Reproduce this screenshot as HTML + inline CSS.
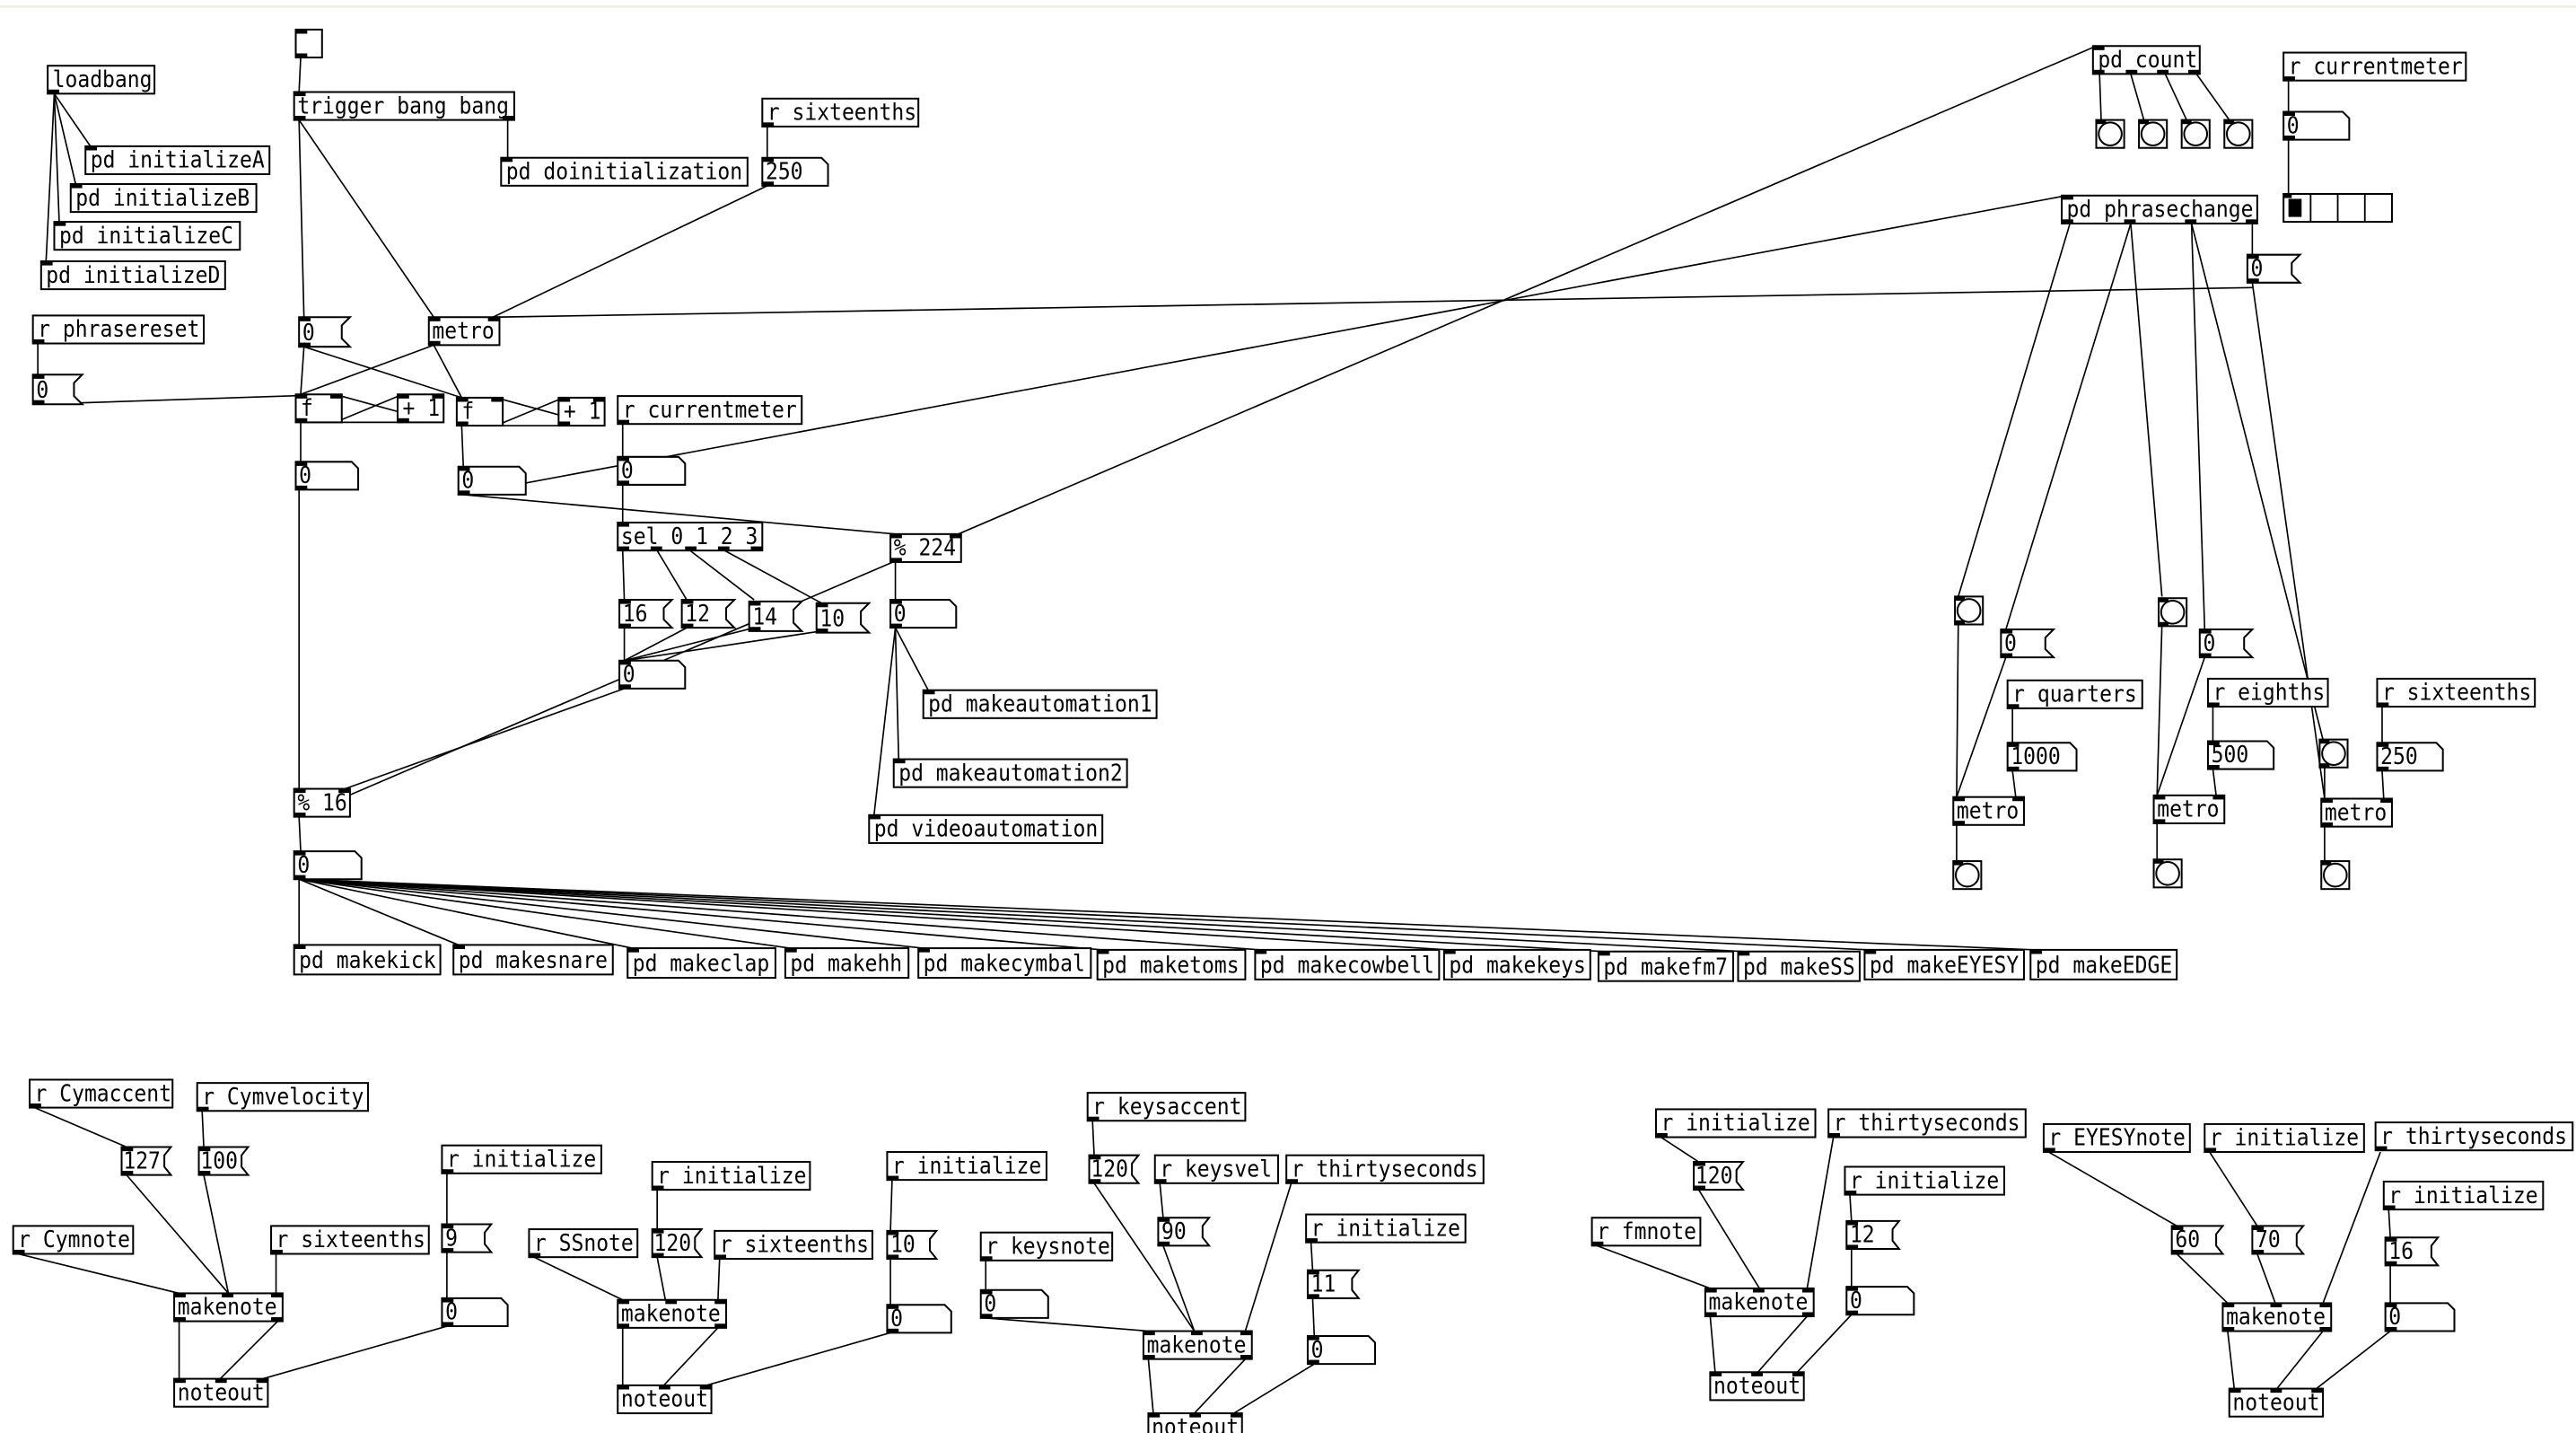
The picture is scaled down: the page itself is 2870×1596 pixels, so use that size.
<!DOCTYPE html>
<html><head><meta charset="utf-8">
<style>
html,body{margin:0;padding:0;background:#fff;}
svg{display:block;}
.b{fill:#fff;stroke:#000;stroke-width:1.1;}
.n{fill:#fff;stroke:#000;stroke-width:1.1;}
.p{fill:#000;stroke:none;}
.l{stroke:#000;stroke-width:0.9;fill:none;}
text{font-family:"DejaVu Sans Mono","Liberation Mono",monospace;font-size:14.3px;fill:#000;transform-box:fill-box;transform-origin:0 0;transform:scaleX(0.88);}
</style></head><body>
<svg width="2870" height="1596" viewBox="0 0 1568 872" xmlns="http://www.w3.org/2000/svg">
<rect x="0" y="0" width="1568" height="872" fill="#fff"/>
<line x1="0" y1="4" x2="1568" y2="4" stroke="#f0ece8" stroke-width="1.5"/>

<g class="l">
<line x1="33" y1="57" x2="55" y2="89"/><line x1="33" y1="57" x2="46" y2="112"/>
<line x1="33" y1="57" x2="36" y2="135"/><line x1="33" y1="57" x2="28" y2="159"/>
<line x1="183" y1="35" x2="182" y2="56"/>
<line x1="182" y1="73" x2="185" y2="193"/>
<line x1="182" y1="73" x2="264" y2="193"/>
<line x1="309" y1="73" x2="309" y2="96"/>
<line x1="467" y1="77" x2="467" y2="96"/>
<line x1="467" y1="113" x2="300" y2="193"/>
<line x1="300" y1="193" x2="1371" y2="175"/>
<line x1="23" y1="209" x2="23" y2="228"/>
<line x1="23" y1="246" x2="204" y2="240"/>
<line x1="185" y1="211" x2="183" y2="240"/>
<line x1="185" y1="211" x2="281" y2="242"/>
<line x1="264" y1="210" x2="183" y2="240"/>
<line x1="264" y1="210" x2="281" y2="242"/>
<line x1="183" y1="257" x2="245" y2="257"/>
<line x1="245" y1="240" x2="204" y2="257"/>
<line x1="204" y1="240" x2="266" y2="257"/>
<line x1="183" y1="257" x2="183" y2="281"/>
<line x1="281" y1="259" x2="343" y2="259"/>
<line x1="343" y1="242" x2="302" y2="259"/>
<line x1="302" y1="242" x2="364" y2="259"/>
<line x1="281" y1="259" x2="282" y2="284"/>
<line x1="282" y1="301" x2="545" y2="325"/>
<line x1="282" y1="301" x2="1258" y2="119"/>
<line x1="379" y1="258" x2="379" y2="278"/>
<line x1="379" y1="295" x2="379" y2="318"/>
<line x1="379" y1="335" x2="380" y2="365"/>
<line x1="400" y1="335" x2="418" y2="365"/>
<line x1="420" y1="335" x2="459" y2="365"/>
<line x1="441" y1="335" x2="500" y2="367"/>
<line x1="380" y1="382" x2="380" y2="402"/>
<line x1="418" y1="382" x2="380" y2="402"/>
<line x1="459" y1="382" x2="380" y2="402"/>
<line x1="500" y1="384" x2="380" y2="402"/>
<line x1="380" y1="419" x2="210" y2="480"/>
<line x1="545" y1="342" x2="545" y2="365"/>
<line x1="545" y1="382" x2="565" y2="420"/>
<line x1="545" y1="382" x2="547" y2="462"/>
<line x1="545" y1="382" x2="532" y2="496"/>
<line x1="182" y1="298" x2="182" y2="480"/>
<line x1="182" y1="497" x2="1276" y2="28"/>
<line x1="182" y1="497" x2="183" y2="518"/>
<line x1="182" y1="535" x2="182" y2="575"/>
<line x1="182" y1="535" x2="279" y2="575"/>
<line x1="182" y1="535" x2="385" y2="577"/>
<line x1="182" y1="535" x2="481" y2="577"/>
<line x1="182" y1="535" x2="562" y2="577"/>
<line x1="182" y1="535" x2="671" y2="578"/>
<line x1="182" y1="535" x2="767" y2="578"/>
<line x1="182" y1="535" x2="882" y2="578"/>
<line x1="182" y1="535" x2="976" y2="579"/>
<line x1="182" y1="535" x2="1061" y2="579"/>
<line x1="182" y1="535" x2="1138" y2="578"/>
<line x1="182" y1="535" x2="1239" y2="578"/>
<line x1="1278" y1="45" x2="1279" y2="73"/>
<line x1="1297" y1="45" x2="1305" y2="73"/>
<line x1="1318" y1="45" x2="1331" y2="73"/>
<line x1="1337" y1="45" x2="1357" y2="73"/>
<line x1="1393" y1="49" x2="1393" y2="68"/>
<line x1="1393" y1="85" x2="1393" y2="118"/>
<line x1="1260" y1="136" x2="1192" y2="363"/>
<line x1="1297" y1="136" x2="1221" y2="383"/>
<line x1="1297" y1="136" x2="1316" y2="363"/>
<line x1="1334" y1="136" x2="1342" y2="383"/>
<line x1="1334" y1="136" x2="1414" y2="450"/>
<line x1="1371" y1="136" x2="1371" y2="155"/>
<line x1="1371" y1="172" x2="1415" y2="486"/>
<line x1="1192" y1="380" x2="1191" y2="485"/>
<line x1="1221" y1="400" x2="1191" y2="485"/>
<line x1="1225" y1="431" x2="1225" y2="452"/>
<line x1="1225" y1="469" x2="1227" y2="485"/>
<line x1="1191" y1="502" x2="1191" y2="524"/>
<line x1="1316" y1="380" x2="1313" y2="484"/>
<line x1="1342" y1="400" x2="1313" y2="484"/>
<line x1="1347" y1="430" x2="1347" y2="451"/>
<line x1="1347" y1="468" x2="1349" y2="484"/>
<line x1="1313" y1="501" x2="1313" y2="523"/>
<line x1="1415" y1="467" x2="1415" y2="486"/>
<line x1="1450" y1="430" x2="1450" y2="452"/>
<line x1="1450" y1="469" x2="1451" y2="486"/>
<line x1="1415" y1="503" x2="1415" y2="524"/>
<line x1="21" y1="674" x2="77" y2="698"/>
<line x1="123" y1="676" x2="124" y2="698"/>
<line x1="77" y1="715" x2="139" y2="787"/>
<line x1="124" y1="715" x2="139" y2="787"/>
<line x1="11" y1="763" x2="109" y2="787"/>
<line x1="168" y1="763" x2="168" y2="787"/>
<line x1="272" y1="714" x2="272" y2="745"/>
<line x1="272" y1="762" x2="272" y2="790"/>
<line x1="272" y1="807" x2="160" y2="839"/>
<line x1="109" y1="804" x2="109" y2="839"/>
<line x1="169" y1="804" x2="134" y2="839"/>
<line x1="400" y1="724" x2="400" y2="748"/>
<line x1="400" y1="765" x2="405" y2="791"/>
<line x1="325" y1="765" x2="379" y2="791"/>
<line x1="438" y1="766" x2="437" y2="791"/>
<line x1="543" y1="718" x2="542" y2="749"/>
<line x1="542" y1="766" x2="542" y2="794"/>
<line x1="542" y1="811" x2="430" y2="843"/>
<line x1="379" y1="808" x2="379" y2="843"/>
<line x1="437" y1="808" x2="404" y2="843"/>
<line x1="665" y1="682" x2="666" y2="703"/>
<line x1="666" y1="720" x2="727" y2="810"/>
<line x1="706" y1="720" x2="708" y2="741"/>
<line x1="708" y1="758" x2="727" y2="810"/>
<line x1="786" y1="720" x2="758" y2="810"/>
<line x1="600" y1="767" x2="600" y2="785"/>
<line x1="600" y1="802" x2="699" y2="810"/>
<line x1="798" y1="756" x2="799" y2="773"/>
<line x1="799" y1="790" x2="800" y2="813"/>
<line x1="800" y1="830" x2="751" y2="860"/>
<line x1="699" y1="827" x2="702" y2="860"/>
<line x1="758" y1="827" x2="727" y2="860"/>
<line x1="1011" y1="692" x2="1034" y2="707"/>
<line x1="1034" y1="724" x2="1071" y2="784"/>
<line x1="1116" y1="692" x2="1100" y2="784"/>
<line x1="972" y1="758" x2="1041" y2="784"/>
<line x1="1126" y1="727" x2="1127" y2="743"/>
<line x1="1127" y1="760" x2="1127" y2="783"/>
<line x1="1127" y1="800" x2="1094" y2="835"/>
<line x1="1041" y1="801" x2="1044" y2="835"/>
<line x1="1100" y1="801" x2="1070" y2="835"/>
<line x1="1247" y1="701" x2="1325" y2="746"/>
<line x1="1345" y1="701" x2="1374" y2="746"/>
<line x1="1449" y1="701" x2="1414" y2="793"/>
<line x1="1325" y1="763" x2="1356" y2="793"/>
<line x1="1374" y1="763" x2="1385" y2="793"/>
<line x1="1454" y1="736" x2="1455" y2="753"/>
<line x1="1455" y1="770" x2="1455" y2="793"/>
<line x1="1455" y1="810" x2="1410" y2="845"/>
<line x1="1356" y1="810" x2="1360" y2="845"/>
<line x1="1414" y1="810" x2="1386" y2="845"/>
</g>

<g>
<rect class="b" x="180" y="18" width="16" height="17"/><rect class="p" x="180" y="18" width="7" height="2.5"/><rect class="p" x="180" y="32.5" width="7" height="2.5"/>

<rect class="b" x="29" y="40" width="65" height="17"/><text x="32" y="53">loadbang</text><rect class="p" x="29" y="54.5" width="7" height="2.5"/>
<rect class="b" x="52" y="89" width="112" height="17"/><text x="55" y="102">pd initializeA</text><rect class="p" x="52" y="89" width="7" height="2.5"/>
<rect class="b" x="43" y="112" width="113" height="17"/><text x="46" y="125">pd initializeB</text><rect class="p" x="43" y="112" width="7" height="2.5"/>
<rect class="b" x="33" y="135" width="113" height="17"/><text x="36" y="148">pd initializeC</text><rect class="p" x="33" y="135" width="7" height="2.5"/>
<rect class="b" x="25" y="159" width="112" height="17"/><text x="28" y="172">pd initializeD</text><rect class="p" x="25" y="159" width="7" height="2.5"/>

<rect class="b" x="179" y="56" width="134" height="17"/><text x="181" y="69">trigger bang bang</text><rect class="p" x="179" y="56" width="7" height="2.5"/><rect class="p" x="179" y="70.5" width="7" height="2.5"/><rect class="p" x="306" y="70.5" width="7" height="2.5"/>
<rect class="b" x="305" y="96" width="150" height="17"/><text x="308" y="109">pd doinitialization</text><rect class="p" x="305" y="96" width="7" height="2.5"/>
<rect class="b" x="464" y="60" width="95" height="17"/><text x="467" y="73">r sixteenths</text><rect class="p" x="464" y="74.5" width="7" height="2.5"/>
<rect class="b" x="20" y="192" width="104" height="17"/><text x="23" y="205">r phrasereset</text><rect class="p" x="20" y="206.5" width="7" height="2.5"/>

<rect class="b" x="261" y="193" width="43" height="17"/><text x="263" y="206">metro</text><rect class="p" x="261" y="193" width="7" height="2.5"/><rect class="p" x="297" y="193" width="7" height="2.5"/><rect class="p" x="261" y="207.5" width="7" height="2.5"/>
<rect class="b" x="180" y="240" width="28" height="17"/><text x="183" y="253">f</text><rect class="p" x="180" y="240" width="7" height="2.5"/><rect class="p" x="201" y="240" width="7" height="2.5"/><rect class="p" x="180" y="254.5" width="7" height="2.5"/>
<rect class="b" x="242" y="240" width="28" height="17"/><text x="245" y="253">+ 1</text><rect class="p" x="242" y="240" width="7" height="2.5"/><rect class="p" x="263" y="240" width="7" height="2.5"/><rect class="p" x="242" y="254.5" width="7" height="2.5"/>
<rect class="b" x="278" y="242" width="28" height="17"/><text x="281" y="255">f</text><rect class="p" x="278" y="242" width="7" height="2.5"/><rect class="p" x="299" y="242" width="7" height="2.5"/><rect class="p" x="278" y="256.5" width="7" height="2.5"/>
<rect class="b" x="340" y="242" width="28" height="17"/><text x="343" y="255">+ 1</text><rect class="p" x="340" y="242" width="7" height="2.5"/><rect class="p" x="361" y="242" width="7" height="2.5"/><rect class="p" x="340" y="256.5" width="7" height="2.5"/>
<rect class="b" x="376" y="241" width="112" height="17"/><text x="379" y="254">r currentmeter</text><rect class="p" x="376" y="255.5" width="7" height="2.5"/>
<rect class="b" x="376" y="318" width="88" height="17"/><text x="378" y="331">sel 0 1 2 3</text><rect class="p" x="376" y="318" width="7" height="2.5"/><rect class="p" x="376" y="332.5" width="7" height="2.5"/><rect class="p" x="396" y="332.5" width="7" height="2.5"/><rect class="p" x="417" y="332.5" width="7" height="2.5"/><rect class="p" x="437" y="332.5" width="7" height="2.5"/><rect class="p" x="457" y="332.5" width="7" height="2.5"/>
<rect class="b" x="542" y="325" width="43" height="17"/><text x="544" y="338">% 224</text><rect class="p" x="542" y="325" width="7" height="2.5"/><rect class="p" x="578" y="325" width="7" height="2.5"/><rect class="p" x="542" y="339.5" width="7" height="2.5"/>
<rect class="b" x="562" y="420" width="142" height="17"/><text x="565" y="433">pd makeautomation1</text><rect class="p" x="562" y="420" width="7" height="2.5"/>
<rect class="b" x="544" y="462" width="142" height="17"/><text x="547" y="475">pd makeautomation2</text><rect class="p" x="544" y="462" width="7" height="2.5"/>
<rect class="b" x="529" y="496" width="142" height="17"/><text x="532" y="509">pd videoautomation</text><rect class="p" x="529" y="496" width="7" height="2.5"/>
<rect class="b" x="179" y="480" width="34" height="17"/><text x="181" y="493">% 16</text><rect class="p" x="179" y="480" width="7" height="2.5"/><rect class="p" x="206" y="480" width="7" height="2.5"/><rect class="p" x="179" y="494.5" width="7" height="2.5"/>

<rect class="b" x="179" y="575" width="89" height="18"/><text x="182" y="589">pd makekick</text><rect class="p" x="179" y="575" width="7" height="2.5"/>
<rect class="b" x="276" y="575" width="97" height="18"/><text x="279" y="589">pd makesnare</text><rect class="p" x="276" y="575" width="7" height="2.5"/>
<rect class="b" x="382" y="577" width="90" height="18"/><text x="385" y="591">pd makeclap</text><rect class="p" x="382" y="577" width="7" height="2.5"/>
<rect class="b" x="478" y="577" width="75" height="18"/><text x="481" y="591">pd makehh</text><rect class="p" x="478" y="577" width="7" height="2.5"/>
<rect class="b" x="559" y="577" width="105" height="18"/><text x="562" y="591">pd makecymbal</text><rect class="p" x="559" y="577" width="7" height="2.5"/>
<rect class="b" x="668" y="578" width="90" height="18"/><text x="671" y="592">pd maketoms</text><rect class="p" x="668" y="578" width="7" height="2.5"/>
<rect class="b" x="764" y="578" width="112" height="18"/><text x="767" y="592">pd makecowbell</text><rect class="p" x="764" y="578" width="7" height="2.5"/>
<rect class="b" x="879" y="578" width="89" height="18"/><text x="882" y="592">pd makekeys</text><rect class="p" x="879" y="578" width="7" height="2.5"/>
<rect class="b" x="973" y="579" width="82" height="18"/><text x="976" y="593">pd makefm7</text><rect class="p" x="973" y="579" width="7" height="2.5"/>
<rect class="b" x="1058" y="579" width="74" height="18"/><text x="1061" y="593">pd makeSS</text><rect class="p" x="1058" y="579" width="7" height="2.5"/>
<rect class="b" x="1135" y="578" width="97" height="18"/><text x="1138" y="592">pd makeEYESY</text><rect class="p" x="1135" y="578" width="7" height="2.5"/>
<rect class="b" x="1236" y="578" width="89" height="18"/><text x="1239" y="592">pd makeEDGE</text><rect class="p" x="1236" y="578" width="7" height="2.5"/>

<rect class="b" x="1274" y="28" width="65" height="17"/><text x="1277" y="41">pd count</text><rect class="p" x="1274" y="28" width="7" height="2.5"/><rect class="p" x="1274" y="42.5" width="7" height="2.5"/><rect class="p" x="1294" y="42.5" width="7" height="2.5"/><rect class="p" x="1313" y="42.5" width="7" height="2.5"/><rect class="p" x="1332" y="42.5" width="7" height="2.5"/>
<rect class="b" x="1390" y="32" width="111" height="17"/><text x="1393" y="45">r currentmeter</text><rect class="p" x="1390" y="46.5" width="7" height="2.5"/>
<rect class="b" x="1255" y="119" width="119" height="17"/><text x="1258" y="132">pd phrasechange</text><rect class="p" x="1255" y="119" width="7" height="2.5"/><rect class="p" x="1255" y="133.5" width="7" height="2.5"/><rect class="p" x="1293" y="133.5" width="7" height="2.5"/><rect class="p" x="1330" y="133.5" width="7" height="2.5"/><rect class="p" x="1367" y="133.5" width="7" height="2.5"/>
<rect class="b" x="1222" y="414" width="82" height="17"/><text x="1225" y="427">r quarters</text><rect class="p" x="1222" y="428.5" width="7" height="2.5"/>
<rect class="b" x="1344" y="413" width="73" height="17"/><text x="1347" y="426">r eighths</text><rect class="p" x="1344" y="427.5" width="7" height="2.5"/>
<rect class="b" x="1447" y="413" width="96" height="17"/><text x="1450" y="426">r sixteenths</text><rect class="p" x="1447" y="427.5" width="7" height="2.5"/>
<rect class="b" x="1189" y="485" width="43" height="17"/><text x="1191" y="498">metro</text><rect class="p" x="1189" y="485" width="7" height="2.5"/><rect class="p" x="1225" y="485" width="7" height="2.5"/><rect class="p" x="1189" y="499.5" width="7" height="2.5"/>
<rect class="b" x="1311" y="484" width="43" height="17"/><text x="1313" y="497">metro</text><rect class="p" x="1311" y="484" width="7" height="2.5"/><rect class="p" x="1347" y="484" width="7" height="2.5"/><rect class="p" x="1311" y="498.5" width="7" height="2.5"/>
<rect class="b" x="1413" y="486" width="43" height="17"/><text x="1415" y="499">metro</text><rect class="p" x="1413" y="486" width="7" height="2.5"/><rect class="p" x="1449" y="486" width="7" height="2.5"/><rect class="p" x="1413" y="500.5" width="7" height="2.5"/>

<rect class="b" x="1390" y="118" width="66" height="17"/>
<line x1="1406.5" y1="118" x2="1406.5" y2="135" stroke="#000" stroke-width="1"/>
<line x1="1423" y1="118" x2="1423" y2="135" stroke="#000" stroke-width="1"/>
<line x1="1439.5" y1="118" x2="1439.5" y2="135" stroke="#000" stroke-width="1"/>
<rect class="p" x="1393" y="121" width="8" height="11"/><rect class="p" x="1390" y="118" width="5" height="2.5"/>

<rect class="b" x="18" y="657" width="87" height="17"/><text x="21" y="670">r Cymaccent</text><rect class="p" x="18" y="671.5" width="7" height="2.5"/>
<rect class="b" x="120" y="659" width="104" height="17"/><text x="123" y="672">r Cymvelocity</text><rect class="p" x="120" y="673.5" width="7" height="2.5"/>
<rect class="b" x="269" y="697" width="97" height="17"/><text x="272" y="710">r initialize</text><rect class="p" x="269" y="711.5" width="7" height="2.5"/>
<rect class="b" x="8" y="746" width="73" height="17"/><text x="11" y="759">r Cymnote</text><rect class="p" x="8" y="760.5" width="7" height="2.5"/>
<rect class="b" x="165" y="746" width="96" height="17"/><text x="168" y="759">r sixteenths</text><rect class="p" x="165" y="760.5" width="7" height="2.5"/>
<rect class="b" x="106" y="787" width="66" height="17"/><text x="108" y="800">makenote</text><rect class="p" x="106" y="787" width="7" height="2.5"/><rect class="p" x="135" y="787" width="7" height="2.5"/><rect class="p" x="165" y="787" width="7" height="2.5"/><rect class="p" x="106" y="801.5" width="7" height="2.5"/><rect class="p" x="165" y="801.5" width="7" height="2.5"/>
<rect class="b" x="106" y="839" width="57" height="17"/><text x="108" y="852">noteout</text><rect class="p" x="106" y="839" width="7" height="2.5"/><rect class="p" x="131" y="839" width="7" height="2.5"/><rect class="p" x="156" y="839" width="7" height="2.5"/>

<rect class="b" x="397" y="707" width="96" height="17"/><text x="400" y="720">r initialize</text><rect class="p" x="397" y="721.5" width="7" height="2.5"/>
<rect class="b" x="322" y="748" width="66" height="17"/><text x="325" y="761">r SSnote</text><rect class="p" x="322" y="762.5" width="7" height="2.5"/>
<rect class="b" x="435" y="749" width="96" height="17"/><text x="438" y="762">r sixteenths</text><rect class="p" x="435" y="763.5" width="7" height="2.5"/>
<rect class="b" x="376" y="791" width="66" height="17"/><text x="378" y="804">makenote</text><rect class="p" x="376" y="791" width="7" height="2.5"/><rect class="p" x="405" y="791" width="7" height="2.5"/><rect class="p" x="435" y="791" width="7" height="2.5"/><rect class="p" x="376" y="805.5" width="7" height="2.5"/><rect class="p" x="435" y="805.5" width="7" height="2.5"/>
<rect class="b" x="376" y="843" width="57" height="17"/><text x="378" y="856">noteout</text><rect class="p" x="376" y="843" width="7" height="2.5"/><rect class="p" x="401" y="843" width="7" height="2.5"/><rect class="p" x="426" y="843" width="7" height="2.5"/>
<rect class="b" x="540" y="701" width="97" height="17"/><text x="543" y="714">r initialize</text><rect class="p" x="540" y="715.5" width="7" height="2.5"/>

<rect class="b" x="662" y="665" width="96" height="17"/><text x="665" y="678">r keysaccent</text><rect class="p" x="662" y="679.5" width="7" height="2.5"/>
<rect class="b" x="703" y="703" width="75" height="17"/><text x="706" y="716">r keysvel</text><rect class="p" x="703" y="717.5" width="7" height="2.5"/>
<rect class="b" x="783" y="703" width="120" height="17"/><text x="786" y="716">r thirtyseconds</text><rect class="p" x="783" y="717.5" width="7" height="2.5"/>
<rect class="b" x="795" y="739" width="97" height="17"/><text x="798" y="752">r initialize</text><rect class="p" x="795" y="753.5" width="7" height="2.5"/>
<rect class="b" x="597" y="750" width="80" height="17"/><text x="600" y="763">r keysnote</text><rect class="p" x="597" y="764.5" width="7" height="2.5"/>
<rect class="b" x="696" y="810" width="66" height="17"/><text x="698" y="823">makenote</text><rect class="p" x="696" y="810" width="7" height="2.5"/><rect class="p" x="725" y="810" width="7" height="2.5"/><rect class="p" x="755" y="810" width="7" height="2.5"/><rect class="p" x="696" y="824.5" width="7" height="2.5"/><rect class="p" x="755" y="824.5" width="7" height="2.5"/>
<rect class="b" x="699" y="860" width="57" height="17"/><text x="701" y="873">noteout</text><rect class="p" x="699" y="860" width="7" height="2.5"/><rect class="p" x="724" y="860" width="7" height="2.5"/><rect class="p" x="749" y="860" width="7" height="2.5"/>

<rect class="b" x="1008" y="675" width="97" height="17"/><text x="1011" y="688">r initialize</text><rect class="p" x="1008" y="689.5" width="7" height="2.5"/>
<rect class="b" x="1113" y="675" width="120" height="17"/><text x="1116" y="688">r thirtyseconds</text><rect class="p" x="1113" y="689.5" width="7" height="2.5"/>
<rect class="b" x="1123" y="710" width="97" height="17"/><text x="1126" y="723">r initialize</text><rect class="p" x="1123" y="724.5" width="7" height="2.5"/>
<rect class="b" x="969" y="741" width="66" height="17"/><text x="972" y="754">r fmnote</text><rect class="p" x="969" y="755.5" width="7" height="2.5"/>
<rect class="b" x="1038" y="784" width="66" height="17"/><text x="1040" y="797">makenote</text><rect class="p" x="1038" y="784" width="7" height="2.5"/><rect class="p" x="1067" y="784" width="7" height="2.5"/><rect class="p" x="1097" y="784" width="7" height="2.5"/><rect class="p" x="1038" y="798.5" width="7" height="2.5"/><rect class="p" x="1097" y="798.5" width="7" height="2.5"/>
<rect class="b" x="1041" y="835" width="57" height="17"/><text x="1043" y="848">noteout</text><rect class="p" x="1041" y="835" width="7" height="2.5"/><rect class="p" x="1066" y="835" width="7" height="2.5"/><rect class="p" x="1091" y="835" width="7" height="2.5"/>

<rect class="b" x="1244" y="684" width="89" height="17"/><text x="1247" y="697">r EYESYnote</text><rect class="p" x="1244" y="698.5" width="7" height="2.5"/>
<rect class="b" x="1342" y="684" width="97" height="17"/><text x="1345" y="697">r initialize</text><rect class="p" x="1342" y="698.5" width="7" height="2.5"/>
<rect class="b" x="1446" y="683" width="120" height="17"/><text x="1449" y="696">r thirtyseconds</text><rect class="p" x="1446" y="697.5" width="7" height="2.5"/>
<rect class="b" x="1451" y="719" width="97" height="17"/><text x="1454" y="732">r initialize</text><rect class="p" x="1451" y="733.5" width="7" height="2.5"/>
<rect class="b" x="1353" y="793" width="66" height="17"/><text x="1355" y="806">makenote</text><rect class="p" x="1353" y="793" width="7" height="2.5"/><rect class="p" x="1382" y="793" width="7" height="2.5"/><rect class="p" x="1412" y="793" width="7" height="2.5"/><rect class="p" x="1353" y="807.5" width="7" height="2.5"/><rect class="p" x="1412" y="807.5" width="7" height="2.5"/>
<rect class="b" x="1357" y="845" width="57" height="17"/><text x="1359" y="858">noteout</text><rect class="p" x="1357" y="845" width="7" height="2.5"/><rect class="p" x="1382" y="845" width="7" height="2.5"/><rect class="p" x="1407" y="845" width="7" height="2.5"/>
</g>

<g>
<polygon class="n" points="464,96 500,96 504,100 504,113 464,113"/><text x="466" y="109">250</text><rect class="p" x="464" y="96" width="7" height="2.5"/><rect class="p" x="464" y="110.5" width="7" height="2.5"/>
<polygon class="n" points="180,281 214,281 218,285 218,298 180,298"/><text x="182" y="294">0</text><rect class="p" x="180" y="281" width="7" height="2.5"/><rect class="p" x="180" y="295.5" width="7" height="2.5"/>
<polygon class="n" points="279,284 316,284 320,288 320,301 279,301"/><text x="281" y="297">0</text><rect class="p" x="279" y="284" width="7" height="2.5"/><rect class="p" x="279" y="298.5" width="7" height="2.5"/>
<polygon class="n" points="376,278 413,278 417,282 417,295 376,295"/><text x="378" y="291">0</text><rect class="p" x="376" y="278" width="7" height="2.5"/><rect class="p" x="376" y="292.5" width="7" height="2.5"/>
<polygon class="n" points="542,365 578,365 582,369 582,382 542,382"/><text x="544" y="378">0</text><rect class="p" x="542" y="365" width="7" height="2.5"/><rect class="p" x="542" y="379.5" width="7" height="2.5"/>
<polygon class="n" points="377,402 413,402 417,406 417,419 377,419"/><text x="379" y="415">0</text><rect class="p" x="377" y="402" width="7" height="2.5"/><rect class="p" x="377" y="416.5" width="7" height="2.5"/>
<polygon class="n" points="179,518 216,518 220,522 220,535 179,535"/><text x="181" y="531">0</text><rect class="p" x="179" y="518" width="7" height="2.5"/><rect class="p" x="179" y="532.5" width="7" height="2.5"/>
<polygon class="n" points="1390,68 1426,68 1430,72 1430,85 1390,85"/><text x="1392" y="81">0</text><rect class="p" x="1390" y="68" width="7" height="2.5"/><rect class="p" x="1390" y="82.5" width="7" height="2.5"/>
<polygon class="n" points="1222,452 1260,452 1264,456 1264,469 1222,469"/><text x="1224" y="465">1000</text><rect class="p" x="1222" y="452" width="7" height="2.5"/><rect class="p" x="1222" y="466.5" width="7" height="2.5"/>
<polygon class="n" points="1344,451 1380,451 1384,455 1384,468 1344,468"/><text x="1346" y="464">500</text><rect class="p" x="1344" y="451" width="7" height="2.5"/><rect class="p" x="1344" y="465.5" width="7" height="2.5"/>
<polygon class="n" points="1447,452 1483,452 1487,456 1487,469 1447,469"/><text x="1449" y="465">250</text><rect class="p" x="1447" y="452" width="7" height="2.5"/><rect class="p" x="1447" y="466.5" width="7" height="2.5"/>
<polygon class="n" points="269,790 305,790 309,794 309,807 269,807"/><text x="271" y="803">0</text><rect class="p" x="269" y="790" width="7" height="2.5"/><rect class="p" x="269" y="804.5" width="7" height="2.5"/>
<polygon class="n" points="540,794 575,794 579,798 579,811 540,811"/><text x="542" y="807">0</text><rect class="p" x="540" y="794" width="7" height="2.5"/><rect class="p" x="540" y="808.5" width="7" height="2.5"/>
<polygon class="n" points="597,785 634,785 638,789 638,802 597,802"/><text x="599" y="798">0</text><rect class="p" x="597" y="785" width="7" height="2.5"/><rect class="p" x="597" y="799.5" width="7" height="2.5"/>
<polygon class="n" points="796,813 833,813 837,817 837,830 796,830"/><text x="798" y="826">0</text><rect class="p" x="796" y="813" width="7" height="2.5"/><rect class="p" x="796" y="827.5" width="7" height="2.5"/>
<polygon class="n" points="1124,783 1161,783 1165,787 1165,800 1124,800"/><text x="1126" y="796">0</text><rect class="p" x="1124" y="783" width="7" height="2.5"/><rect class="p" x="1124" y="797.5" width="7" height="2.5"/>
<polygon class="n" points="1452,793 1490,793 1494,797 1494,810 1452,810"/><text x="1454" y="806">0</text><rect class="p" x="1452" y="793" width="7" height="2.5"/><rect class="p" x="1452" y="807.5" width="7" height="2.5"/>

<polygon class="n" points="20,228 50,228 45,233 45,241 50,246 20,246"/><text x="22" y="242">0</text><rect class="p" x="20" y="228" width="7" height="2.5"/><rect class="p" x="20" y="243.5" width="7" height="2.5"/>
<polygon class="n" points="182,193 213,193 208,198 208,206 213,211 182,211"/><text x="184" y="207">0</text><rect class="p" x="182" y="193" width="7" height="2.5"/><rect class="p" x="182" y="208.5" width="7" height="2.5"/>
<polygon class="n" points="377,365 409,365 404,370 404,377 409,382 377,382"/><text x="379" y="378">16</text><rect class="p" x="377" y="365" width="7" height="2.5"/><rect class="p" x="377" y="379.5" width="7" height="2.5"/>
<polygon class="n" points="415,365 447,365 442,370 442,377 447,382 415,382"/><text x="417" y="378">12</text><rect class="p" x="415" y="365" width="7" height="2.5"/><rect class="p" x="415" y="379.5" width="7" height="2.5"/>
<polygon class="n" points="456,366 488,366 483,371 483,379 488,384 456,384"/><text x="458" y="380">14</text><rect class="p" x="456" y="366" width="7" height="2.5"/><rect class="p" x="456" y="381.5" width="7" height="2.5"/>
<polygon class="n" points="497,367 529,367 524,372 524,380 529,385 497,385"/><text x="499" y="381">10</text><rect class="p" x="497" y="367" width="7" height="2.5"/><rect class="p" x="497" y="382.5" width="7" height="2.5"/>
<polygon class="n" points="1368,155 1400,155 1395,160 1395,167 1400,172 1368,172"/><text x="1370" y="168">0</text><rect class="p" x="1368" y="155" width="7" height="2.5"/><rect class="p" x="1368" y="169.5" width="7" height="2.5"/>
<polygon class="n" points="1218,383 1250,383 1245,388 1245,395 1250,400 1218,400"/><text x="1220" y="396">0</text><rect class="p" x="1218" y="383" width="7" height="2.5"/><rect class="p" x="1218" y="397.5" width="7" height="2.5"/>
<polygon class="n" points="1339,383 1371,383 1366,388 1366,395 1371,400 1339,400"/><text x="1341" y="396">0</text><rect class="p" x="1339" y="383" width="7" height="2.5"/><rect class="p" x="1339" y="397.5" width="7" height="2.5"/>
<polygon class="n" points="74,698 104,698 100,703 100,710 104,715 74,715"/><text x="75" y="711">127</text><rect class="p" x="74" y="698" width="7" height="2.5"/><rect class="p" x="74" y="712.5" width="7" height="2.5"/>
<polygon class="n" points="121,698 151,698 147,703 147,710 151,715 121,715"/><text x="122" y="711">100</text><rect class="p" x="121" y="698" width="7" height="2.5"/><rect class="p" x="121" y="712.5" width="7" height="2.5"/>
<polygon class="n" points="269,745 299,745 295,750 295,757 299,762 269,762"/><text x="271" y="758">9</text><rect class="p" x="269" y="745" width="7" height="2.5"/><rect class="p" x="269" y="759.5" width="7" height="2.5"/>
<polygon class="n" points="397,748 427,748 423,753 423,760 427,765 397,765"/><text x="398" y="761">120</text><rect class="p" x="397" y="748" width="7" height="2.5"/><rect class="p" x="397" y="762.5" width="7" height="2.5"/>
<polygon class="n" points="540,749 570,749 566,754 566,761 570,766 540,766"/><text x="542" y="762">10</text><rect class="p" x="540" y="749" width="7" height="2.5"/><rect class="p" x="540" y="763.5" width="7" height="2.5"/>
<polygon class="n" points="663,703 693,703 689,708 689,715 693,720 663,720"/><text x="664" y="716">120</text><rect class="p" x="663" y="703" width="7" height="2.5"/><rect class="p" x="663" y="717.5" width="7" height="2.5"/>
<polygon class="n" points="705,741 736,741 732,746 732,753 736,758 705,758"/><text x="707" y="754">90</text><rect class="p" x="705" y="741" width="7" height="2.5"/><rect class="p" x="705" y="755.5" width="7" height="2.5"/>
<polygon class="n" points="796,773 827,773 823,778 823,785 827,790 796,790"/><text x="798" y="786">11</text><rect class="p" x="796" y="773" width="7" height="2.5"/><rect class="p" x="796" y="787.5" width="7" height="2.5"/>
<polygon class="n" points="1031,707 1061,707 1057,712 1057,719 1061,724 1031,724"/><text x="1032" y="720">120</text><rect class="p" x="1031" y="707" width="7" height="2.5"/><rect class="p" x="1031" y="721.5" width="7" height="2.5"/>
<polygon class="n" points="1124,743 1156,743 1152,748 1152,755 1156,760 1124,760"/><text x="1126" y="756">12</text><rect class="p" x="1124" y="743" width="7" height="2.5"/><rect class="p" x="1124" y="757.5" width="7" height="2.5"/>
<polygon class="n" points="1322,746 1353,746 1349,751 1349,758 1353,763 1322,763"/><text x="1324" y="759">60</text><rect class="p" x="1322" y="746" width="7" height="2.5"/><rect class="p" x="1322" y="760.5" width="7" height="2.5"/>
<polygon class="n" points="1371,746 1402,746 1398,751 1398,758 1402,763 1371,763"/><text x="1373" y="759">70</text><rect class="p" x="1371" y="746" width="7" height="2.5"/><rect class="p" x="1371" y="760.5" width="7" height="2.5"/>
<polygon class="n" points="1452,753 1484,753 1480,758 1480,765 1484,770 1452,770"/><text x="1454" y="766">16</text><rect class="p" x="1452" y="753" width="7" height="2.5"/><rect class="p" x="1452" y="767.5" width="7" height="2.5"/>
</g>

<g>
<rect class="b" x="1276" y="73" width="17" height="17"/><circle cx="1284.5" cy="81.5" r="7" class="b"/><rect class="p" x="1276" y="73" width="6" height="2.5"/>
<rect class="b" x="1302" y="73" width="17" height="17"/><circle cx="1310.5" cy="81.5" r="7" class="b"/><rect class="p" x="1302" y="73" width="6" height="2.5"/>
<rect class="b" x="1328" y="73" width="17" height="17"/><circle cx="1336.5" cy="81.5" r="7" class="b"/><rect class="p" x="1328" y="73" width="6" height="2.5"/>
<rect class="b" x="1354" y="73" width="17" height="17"/><circle cx="1362.5" cy="81.5" r="7" class="b"/><rect class="p" x="1354" y="73" width="6" height="2.5"/>
<rect class="b" x="1190" y="363" width="17" height="17"/><circle cx="1198.5" cy="371.5" r="7" class="b"/><rect class="p" x="1190" y="363" width="6" height="2.5"/><rect class="p" x="1190" y="377.5" width="6" height="2.5"/>
<rect class="b" x="1314" y="364" width="17" height="17"/><circle cx="1322.5" cy="372.5" r="7" class="b"/><rect class="p" x="1314" y="364" width="6" height="2.5"/><rect class="p" x="1314" y="378.5" width="6" height="2.5"/>
<rect class="b" x="1412" y="450" width="17" height="17"/><circle cx="1420.5" cy="458.5" r="7" class="b"/><rect class="p" x="1412" y="450" width="6" height="2.5"/><rect class="p" x="1412" y="464.5" width="6" height="2.5"/>
<rect class="b" x="1189" y="524" width="17" height="17"/><circle cx="1197.5" cy="532.5" r="7" class="b"/><rect class="p" x="1189" y="524" width="6" height="2.5"/>
<rect class="b" x="1311" y="523" width="17" height="17"/><circle cx="1319.5" cy="531.5" r="7" class="b"/><rect class="p" x="1311" y="523" width="6" height="2.5"/>
<rect class="b" x="1413" y="524" width="17" height="17"/><circle cx="1421.5" cy="532.5" r="7" class="b"/><rect class="p" x="1413" y="524" width="6" height="2.5"/>
</g>
</svg>
</body></html>
